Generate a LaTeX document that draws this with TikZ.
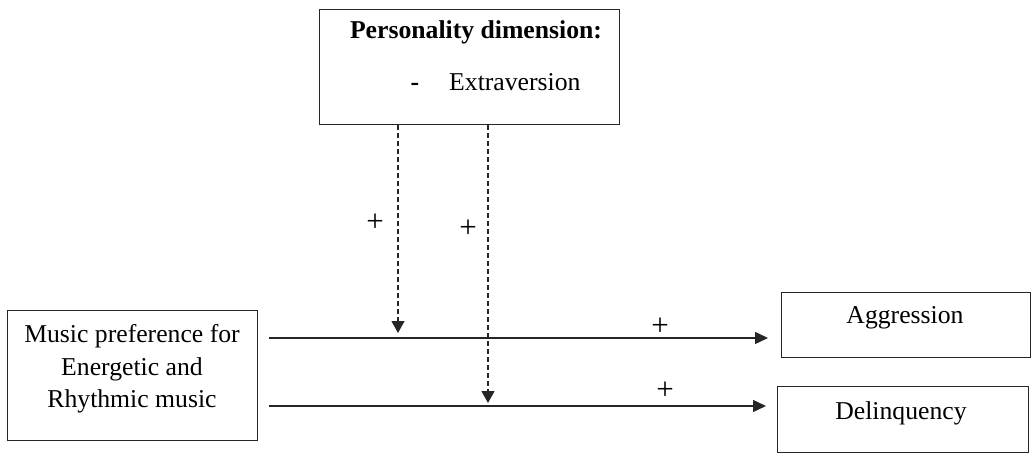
\documentclass[tikz,border=0pt]{standalone}
\usepackage{fontspec}
\setmainfont{Liberation Serif}
\usetikzlibrary{arrows.meta}
\begin{document}
\begin{tikzpicture}[x=1pt,y=-1pt,
  box/.style={draw=black!85,line width=1.2pt,rectangle,inner sep=0pt,anchor=north west},
  txt/.style={inner sep=0pt,anchor=base,font=\fontsize{25.7pt}{33pt}\selectfont},
  plus/.style={inner sep=0pt,font=\fontsize{31pt}{34pt}\selectfont},
  arr/.style={draw=black!85,line width=1.4pt,-{Triangle[length=13pt,width=12pt]}},
  darr/.style={draw=black!85,line width=1.2pt,dash pattern=on 5pt off 3pt,-{Triangle[length=12pt,width=13pt]}}]
\useasboundingbox (0,0) rectangle (1032,454);
% boxes
\node[box,minimum width=300pt,minimum height=115pt] (pd) at (319,9) {};
\node[box,minimum width=250pt,minimum height=130pt] (mp) at (7,310) {};
\node[box,minimum width=249pt,minimum height=65pt] (ag) at (781,292) {};
\node[box,minimum width=251pt,minimum height=66pt] (de) at (777,386) {};
% texts
\node[txt] (pdt) at (476,39) {\textbf{Personality dimension:}};
\node[txt] (dash) at (415,91) {\textbf{-}};
\node[txt,anchor=base west] (ext) at (449,91) {Extraversion};
\node[txt] (mp1) at (132,342) {Music preference for};
\node[txt] (mp2) at (132,375) {Energetic and};
\node[txt] (mp3) at (132,407) {Rhythmic music};
\node[txt] (agt) at (905,323) {Aggression};
\node[txt] (det) at (901,419) {Delinquency};
% helper coordinates
\coordinate (y1) at (0,338);
\coordinate (y2) at (0,406);
\coordinate (x1) at (398,0);
\coordinate (x2) at (488,0);
% main arrows
\draw[arr,shorten <=11pt,shorten >=13pt] (mp.east |- y1) -- (ag.west |- y1);
\draw[arr,shorten <=11pt,shorten >=11pt] (mp.east |- y2) -- (de.west |- y2);
% moderating dashed arrows
\coordinate (m1) at (x1 |- y1);
\coordinate (m2) at (x2 |- y2);
\draw[darr,shorten >=5pt] (pd.south -| x1) -- (m1);
\draw[darr,shorten >=3pt] (pd.south -| x2) -- (m2);
% plus labels
\node[plus] (p1) at (375,223) {+};
\node[plus] (p2) at (468,229) {+};
\node[plus] (p3) at (660,327) {+};
\node[plus] (p4) at (665,391) {+};
\end{tikzpicture}
\end{document}
